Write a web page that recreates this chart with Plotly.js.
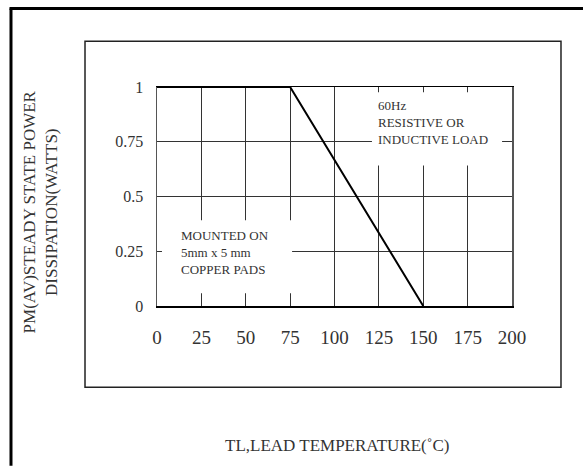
<!DOCTYPE html>
<html>
<head>
<meta charset="utf-8">
<script src="https://cdn.plot.ly/plotly-3.0.1.min.js"></script>
<style>html,body{margin:0;padding:0;background:#fff;}#chart{width:585px;height:466px;}</style>
</head>
<body>
<div id="chart"></div>
<script>
// Derating curve data
const temperature = [0, 75, 150];
const powerWatts = [1, 1, 0];
const xTicks = [0, 25, 50, 75, 100, 125, 150, 175, 200];
const yTickVals = [0, 0.25, 0.5, 0.75, 1];
const yTickText = ["0", "0.25", "0.5", "0.75", "1"];
const xTitle = "TL,LEAD TEMPERATURE(˚C)";
const yTitleLines = ["PM(AV)STEADY STATE POWER", "DISSIPATION(WATTS)"];
const noteLoad = ["60Hz", "RESISTIVE OR", "INDUCTIVE LOAD"];
const noteMount = ["MOUNTED ON", "5mm x 5 mm", "COPPER PADS"];

const serif = "Liberation Serif, Times New Roman, serif";
const txt = "#333";

const trace = {
  x: temperature, y: powerWatts, type: "scatter", mode: "lines",
  line: {color: "#000", width: 2}, hoverinfo: "skip", showlegend: false
};

const layout = {
  width: 585, height: 466,
  margin: {l: 157, r: 73, t: 87, b: 160},
  paper_bgcolor: "#fff", plot_bgcolor: "#fff",
  font: {family: serif, color: txt},
  showlegend: false,
  xaxis: {
    range: [0, 200], tickvals: xTicks, ticktext: xTicks.map(String),
    showgrid: true, gridcolor: "#333", gridwidth: 1,
    zeroline: false, showline: true, mirror: true, linecolor: "#000", linewidth: 1.5,
    ticks: "", tickfont: {family: serif, size: 19, color: txt},
    ticklabelstandoff: 14, fixedrange: true
  },
  yaxis: {
    range: [0, 1], tickvals: yTickVals, ticktext: yTickText,
    showgrid: true, gridcolor: "#333", gridwidth: 1,
    zeroline: false, showline: true, mirror: true, linecolor: "#555", linewidth: 1.5,
    ticks: "", tickfont: {family: serif, size: 16, color: txt},
    ticklabelstandoff: 9, fixedrange: true
  },
  shapes: [
    // outer frame (left & top thick lines)
    {type: "line", xref: "paper", yref: "paper", x0: -0.4113, x1: -0.4113, y0: 1.359, y1: -0.73, line: {color: "#000", width: 3}},
    {type: "line", xref: "paper", yref: "paper", x0: -0.4155, x1: 1.2, y0: 1.359, y1: 1.359, line: {color: "#000", width: 3}},
    // inner frame
    {type: "rect", xref: "paper", yref: "paper", x0: -0.2028, x1: 1.138, y0: -0.3712, y1: 1.2087, line: {color: "#222", width: 1.5}},
    // white boxes behind notes
    {type: "rect", xref: "x", yref: "y", layer: "above", x0: 121.1, x1: 194.4, y0: 0.642, y1: 0.976, fillcolor: "#fff", line: {width: 0}},
    {type: "rect", xref: "x", yref: "y", layer: "above", x0: 2.8, x1: 76.1, y0: 0.058, y1: 0.391, fillcolor: "#fff", line: {width: 0}}
  ],
  annotations: [
    {xref: "x", yref: "y", x: 123.4, y: 0.839, xanchor: "left", yanchor: "middle", align: "left",
     showarrow: false, text: noteLoad.join("<br>"), font: {family: serif, size: 13, color: txt}},
    {xref: "x", yref: "y", x: 12.4, y: 0.245, xanchor: "left", yanchor: "middle", align: "left",
     showarrow: false, text: noteMount.join("<br>"), font: {family: serif, size: 13, color: txt}},
    {xref: "paper", yref: "paper", x: 0.508, y: -0.636, xanchor: "center", yanchor: "middle",
     showarrow: false, text: xTitle, font: {family: serif, size: 17, color: txt}},
    {xref: "paper", yref: "paper", x: -0.3296, y: 0.432, xanchor: "center", yanchor: "middle",
     textangle: -90, showarrow: false, align: "center", text: yTitleLines.join("<br>"),
     font: {family: serif, size: 17, color: txt}}
  ]
};

Plotly.newPlot("chart", [trace], layout, {staticPlot: true, displayModeBar: false});
</script>
</body>
</html>
